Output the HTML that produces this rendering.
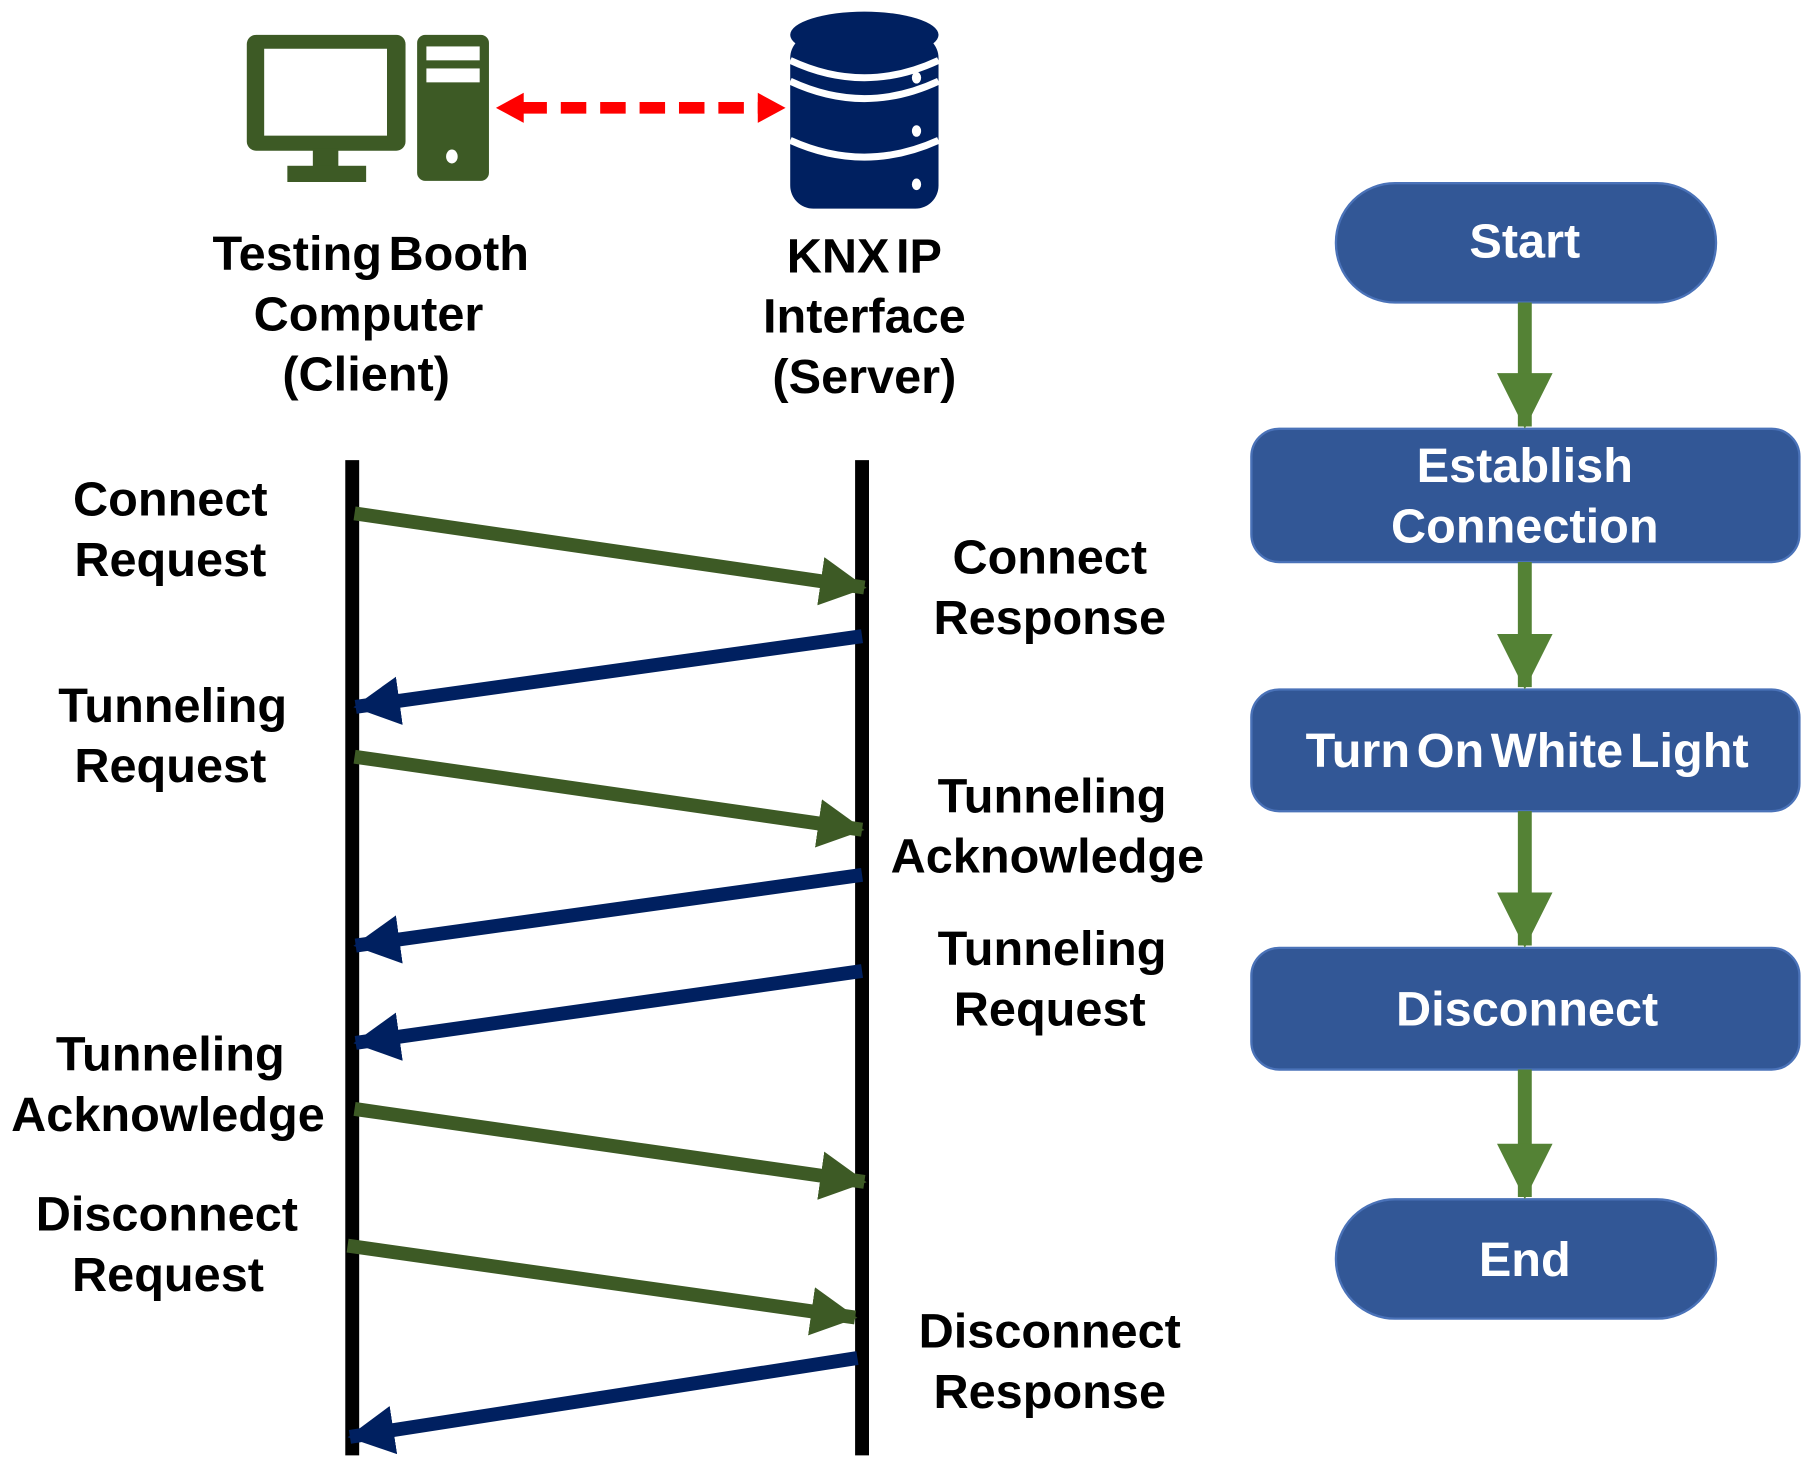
<!DOCTYPE html>
<html><head><meta charset="utf-8"><style>
html,body{margin:0;padding:0;background:#fff;}
svg{display:block;}
text{font-family:"Liberation Sans",Arial,sans-serif;font-weight:bold;}
</style></head><body>
<svg width="1811" height="1474" viewBox="0 0 1563 1272" xmlns="http://www.w3.org/2000/svg">
<defs>
<marker id="g" markerUnits="userSpaceOnUse" markerWidth="40" markerHeight="42" refX="38" refY="21" orient="auto"><path d="M0,0 L40,21 L0,42 Z" fill="#3d5a25"/></marker>
<marker id="b" markerUnits="userSpaceOnUse" markerWidth="40" markerHeight="42" refX="38" refY="21" orient="auto"><path d="M0,0 L40,21 L0,42 Z" fill="#002060"/></marker>
<marker id="fg" markerUnits="userSpaceOnUse" markerWidth="48" markerHeight="48" refX="46" refY="24" orient="auto"><path d="M0,0 L48,24 L0,48 Z" fill="#548235"/></marker>
</defs>
<!-- computer -->
<rect x="213" y="30" width="137" height="100" rx="8" fill="#3d5a25"/>
<rect x="228" y="42" width="106" height="75" fill="#fff"/>
<rect x="270" y="128" width="22" height="18" fill="#3d5a25"/>
<rect x="248" y="143" width="68" height="14" fill="#3d5a25"/>
<rect x="360" y="30" width="62" height="126" rx="7" fill="#3d5a25"/>
<rect x="368" y="40" width="46" height="12" fill="#fff"/>
<rect x="368" y="59" width="46" height="12" fill="#fff"/>
<ellipse cx="390" cy="135" rx="5" ry="6" fill="#fff"/>
<!-- red dashed arrow -->
<line x1="450" y1="93" x2="655" y2="93" stroke="#ff0000" stroke-width="10" stroke-dasharray="22,12"/>
<path d="M428,93 L452,80 L452,106 Z" fill="#ff0000"/>
<path d="M678,93 L654,80 L654,106 Z" fill="#ff0000"/>
<!-- database -->
<g fill="#002060">
<rect x="682" y="30" width="128" height="150" rx="20"/>
<ellipse cx="746" cy="30" rx="64" ry="20"/>
</g>
<path d="M682,52 Q746,82 810,52" stroke="#fff" stroke-width="6" fill="none"/>
<path d="M682,70 Q746,100 810,70" stroke="#fff" stroke-width="6" fill="none"/>
<path d="M682,121 Q746,150 810,121" stroke="#fff" stroke-width="6" fill="none"/>
<g fill="#fff"><ellipse cx="791" cy="67" rx="4" ry="5"/><ellipse cx="791" cy="113" rx="4" ry="5"/><ellipse cx="791" cy="159" rx="4" ry="5"/></g>
<!-- header labels -->
<g font-size="42" text-anchor="middle" fill="#000" word-spacing="-6">
<text x="320" y="233">Testing Booth</text>
<text x="318" y="285">Computer</text>
<text x="316" y="337">(Client)</text>
<text x="746" y="235">KNX IP</text>
<text x="746" y="287">Interface</text>
<text x="746" y="339">(Server)</text>
</g>
<!-- lifelines -->
<line x1="304" y1="397" x2="304" y2="1256" stroke="#000" stroke-width="12"/>
<line x1="744" y1="397" x2="744" y2="1256" stroke="#000" stroke-width="12"/>
<!-- messages -->
<g stroke-width="12" fill="none">
<line x1="306" y1="443" x2="746" y2="507" stroke="#3d5a25" marker-end="url(#g)"/>
<line x1="744" y1="549" x2="307" y2="610" stroke="#002060" marker-end="url(#b)"/>
<line x1="306" y1="653" x2="744" y2="716" stroke="#3d5a25" marker-end="url(#g)"/>
<line x1="744" y1="755" x2="307" y2="816" stroke="#002060" marker-end="url(#b)"/>
<line x1="744" y1="838" x2="307" y2="900" stroke="#002060" marker-end="url(#b)"/>
<line x1="306" y1="957" x2="746" y2="1020" stroke="#3d5a25" marker-end="url(#g)"/>
<line x1="300" y1="1075" x2="738" y2="1137" stroke="#3d5a25" marker-end="url(#g)"/>
<line x1="740" y1="1172" x2="302" y2="1240" stroke="#002060" marker-end="url(#b)"/>
</g>
<!-- message labels -->
<g font-size="42" text-anchor="middle" fill="#000">
<text x="147" y="445">Connect</text>
<text x="147" y="497">Request</text>
<text x="906" y="495">Connect</text>
<text x="906" y="547">Response</text>
<text x="149" y="623">Tunneling</text>
<text x="147" y="675">Request</text>
<text x="908" y="701">Tunneling</text>
<text x="904" y="753">Acknowledge</text>
<text x="908" y="833">Tunneling</text>
<text x="906" y="885">Request</text>
<text x="147" y="924">Tunneling</text>
<text x="145" y="976">Acknowledge</text>
<text x="144" y="1062">Disconnect</text>
<text x="145" y="1114">Request</text>
<text x="906" y="1163">Disconnect</text>
<text x="906" y="1215">Response</text>
</g>
<!-- flowchart -->
<g fill="#325796" stroke="#4a72b8" stroke-width="2">
<rect x="1153" y="158" width="328" height="103" rx="51"/>
<rect x="1080" y="370" width="473" height="115" rx="24"/>
<rect x="1080" y="595" width="473" height="105" rx="24"/>
<rect x="1080" y="818" width="473" height="105" rx="24"/>
<rect x="1153" y="1035" width="328" height="103" rx="51"/>
</g>
<g stroke="#548235" stroke-width="12">
<line x1="1316" y1="261" x2="1316" y2="368" marker-end="url(#fg)"/>
<line x1="1316" y1="485" x2="1316" y2="593" marker-end="url(#fg)"/>
<line x1="1316" y1="700" x2="1316" y2="816" marker-end="url(#fg)"/>
<line x1="1316" y1="923" x2="1316" y2="1033" marker-end="url(#fg)"/>
</g>
<g font-size="42" text-anchor="middle" fill="#fff" word-spacing="-6">
<text x="1316" y="222">Start</text>
<text x="1316" y="416">Establish</text>
<text x="1316" y="468">Connection</text>
<text x="1318" y="662">Turn On White Light</text>
<text x="1318" y="885">Disconnect</text>
<text x="1316" y="1101">End</text>
</g>
</svg>
</body></html>
